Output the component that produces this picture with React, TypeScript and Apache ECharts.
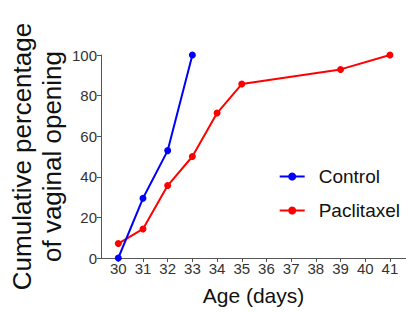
import React, { useEffect, useRef } from "react";
import * as echarts from "echarts";

const ageTicks = [30, 31, 32, 33, 34, 35, 36, 37, 38, 39, 40, 41];
const controlAges = [30, 31, 32, 33];
const controlValues = [0, 29.4, 52.9, 100];
const paclitaxelAges = [30, 31, 32, 33, 34, 35, 39, 41];
const paclitaxelValues = [7.1, 14.3, 35.7, 50, 71.4, 85.7, 92.9, 100];
const yTicks = [0, 20, 40, 60, 80, 100];

const FONT = "'Liberation Sans', Arial, Helvetica, sans-serif";

export default function App() {
  const ref = useRef<HTMLDivElement>(null);
  useEffect(() => {
    if (!ref.current) return;
    const chart = echarts.init(ref.current, undefined, { renderer: "svg" });
    chart.setOption({
      animation: false,
      textStyle: { fontFamily: FONT },
      grid: { left: 101, right: 0, top: 55, bottom: 55, containLabel: false, outerBoundsMode: "none" },
      legend: {
        right: 1,
        top: 162,
        orient: "vertical",
        itemWidth: 25,
        itemHeight: 10,
        itemGap: 15,
        textStyle: { fontSize: 19, color: "#111", fontFamily: FONT, padding: [0, 0, 0, 9] },
        data: ["Control", "Paclitaxel"],
      },
      xAxis: {
        type: "value",
        min: 29.3,
        max: 41.65,
        name: "Age (days)",
        nameLocation: "middle",
        nameGap: 27,
        nameMoveOverlap: false,
        nameTextStyle: { fontSize: 21, color: "#111", fontFamily: FONT },
        axisLine: { show: true, lineStyle: { color: "#555", width: 1 } },
        axisTick: { show: true, length: 4, customValues: ageTicks, lineStyle: { color: "#555" } },
        axisLabel: { customValues: ageTicks, fontSize: 15, color: "#333", margin: 3, fontFamily: FONT },
        splitLine: { show: false },
      },
      yAxis: {
        type: "value",
        min: yTicks[0],
        max: yTicks[yTicks.length - 1],
        interval: 20,
        name: "Cumulative percentage\nof vaginal opening",
        nameLocation: "middle",
        nameGap: 34,
        nameMoveOverlap: false,
        nameTextStyle: { fontSize: 26, color: "#111", lineHeight: 30, fontFamily: FONT },
        axisLine: { show: true, lineStyle: { color: "#555", width: 1 } },
        axisTick: { show: true, length: 4, lineStyle: { color: "#555" } },
        axisLabel: { fontSize: 15, color: "#333", margin: 4, fontFamily: FONT },
        splitLine: { show: false },
      },
      series: [
        {
          name: "Control",
          type: "line",
          data: controlAges.map((a, i) => [a, controlValues[i]]),
          symbol: "circle",
          symbolSize: 7,
          itemStyle: { color: "#0000ff" },
          lineStyle: { color: "#0000ff", width: 2 },
          z: 3,
        },
        {
          name: "Paclitaxel",
          type: "line",
          data: paclitaxelAges.map((a, i) => [a, paclitaxelValues[i]]),
          symbol: "circle",
          symbolSize: 7,
          itemStyle: { color: "#ff0000" },
          lineStyle: { color: "#ff0000", width: 2 },
          z: 2,
        },
      ],
    });
    return () => chart.dispose();
  }, []);
  return <div ref={ref} style={{ width: 406, height: 313, position: "absolute", left: 0, top: 0 }} />;
}
